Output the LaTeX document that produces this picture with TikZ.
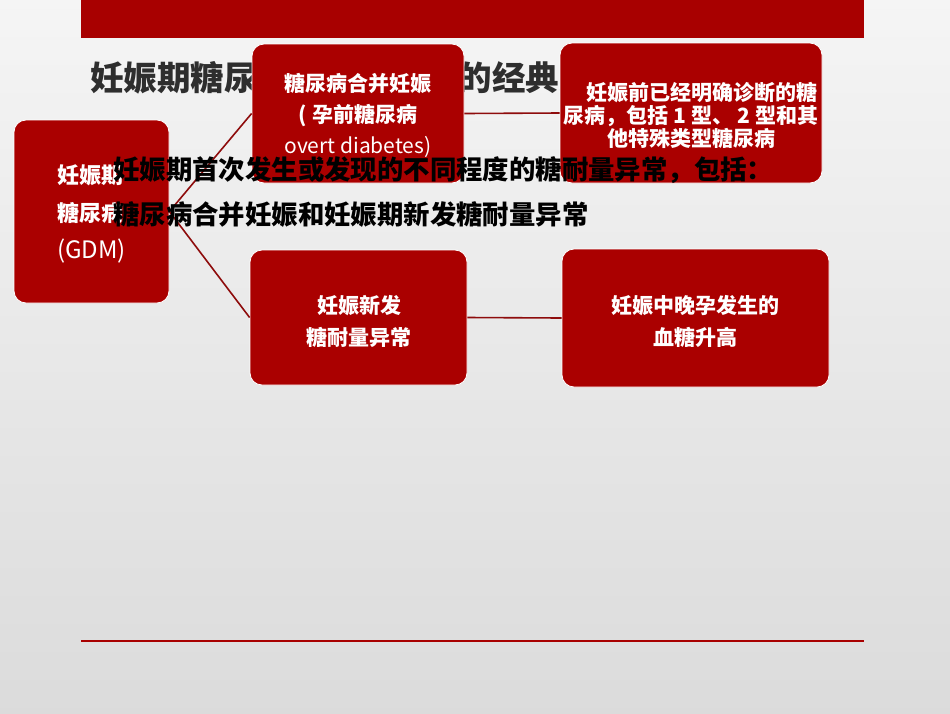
\documentclass[tikz,border=0pt]{standalone}
\usepackage{fontspec}
\setmainfont{Noto Sans CJK SC}
\begin{document}
\begin{tikzpicture}[x=1pt,y=-1pt,
  redbox/.style={draw=white,line width=0.8pt,fill=boxred,rounded corners=12pt,inner sep=0pt},
  boxtext/.style={text=white,font=\bfseries\fontsize{21}{31}\selectfont,align=center,inner sep=0pt},
  link/.style={draw=linkred,line width=1.6pt},
  bodytext/.style={text=black,font=\bfseries\fontsize{26.4}{30}\selectfont,anchor=west,inner sep=0pt}]
\definecolor{boxred}{HTML}{AA0000}
\definecolor{barred}{HTML}{A80000}
\definecolor{linkred}{HTML}{8E0C0C}
\definecolor{titlegray}{HTML}{2E2E2E}
\useasboundingbox (0,0) rectangle (950,713);
\shade[top color=white!96!black,bottom color=white!86!black] (0,0) rectangle (950,713);
\fill[barred] (81,0) rectangle (864,38);
\node[anchor=west,inner sep=0pt,text=titlegray,font=\bfseries\fontsize{33.5}{36}\selectfont] (title) at (90,78) {妊娠期糖尿病诊断与分类的经典定义};
\coordinate (bl) at (81,641);
\coordinate (br) at (864,641);
\draw[draw=barred,line width=2pt] (bl) -- (br);
% boxes
\node[redbox,minimum width=155pt,minimum height=183pt] (gdm) at (91.5,211.5) {};
\node[redbox,minimum width=212pt,minimum height=139pt] (pre) at (358,113.5) {};
\node[redbox,minimum width=262pt,minimum height=140pt] (predef) at (691,113) {};
\node[redbox,minimum width=217pt,minimum height=135pt] (new) at (358.5,317.5) {};
\node[redbox,minimum width=267pt,minimum height=138pt] (newdef) at (695.5,318) {};
% connectors
\draw[link] (gdm.east) -- (pre.west);
\draw[link] (gdm.east) -- (new.west);
\draw[link] (pre.east) -- (predef.west);
\draw[link] (new.east) -- (newdef.west);
% box texts
\node[boxtext,anchor=west,align=left,font=\bfseries\fontsize{22}{37.5}\selectfont] (gdmtext) at (57,214) {妊娠期\\糖尿病\\\mdseries\fontsize{24}{37.5}\selectfont(GDM)};
\node[boxtext] (pretext) at (358,115) {糖尿病合并妊娠\\( 孕前糖尿病\\\mdseries overt diabetes)};
\node[boxtext,font=\bfseries\fontsize{21}{23}\selectfont] (predeftext) at (691,115) {\hspace*{1em}妊娠前已经明确诊断的糖\\尿病，包括 1 型、 2 型和其\\他特殊类型糖尿病};
\node[boxtext,font=\bfseries\fontsize{21}{32}\selectfont] (newtext) at (359,321) {妊娠新发\\糖耐量异常};
\node[boxtext,font=\bfseries\fontsize{21}{32}\selectfont] (newdeftext) at (695,321) {妊娠中晚孕发生的\\血糖升高};
% body text
\node[bodytext] (body1) at (113,170) {妊娠期首次发生或发现的不同程度的糖耐量异常，包括：};
\node[bodytext] (body2) at (113,215) {糖尿病合并妊娠和妊娠期新发糖耐量异常};
\end{tikzpicture}
\end{document}
